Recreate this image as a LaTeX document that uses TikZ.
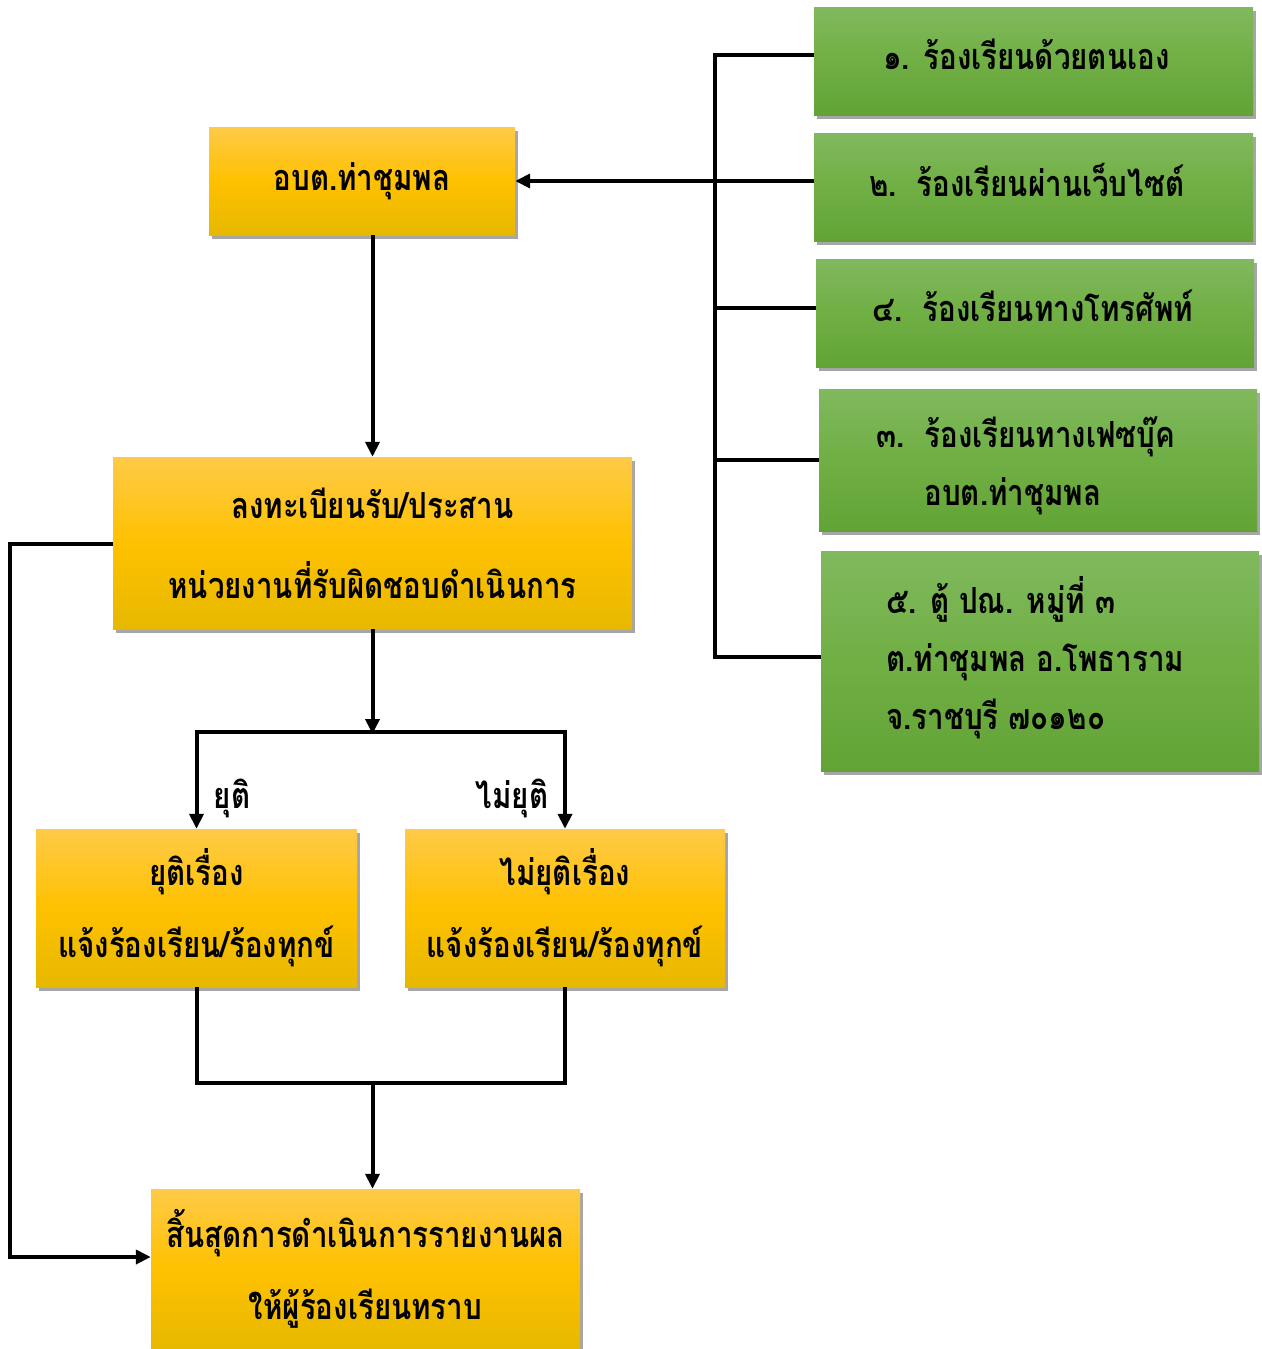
\documentclass[tikz,border=0pt]{standalone}
\usepackage{fontspec}
\newfontfamily\thaifont[Script=Thai,FakeStretch=0.82]{Loma}
\usetikzlibrary{arrows.meta,shadows,calc}
\definecolor{orTop}{RGB}{255,202,72}
\definecolor{orMid}{RGB}{255,193,0}
\definecolor{orBot}{RGB}{230,184,0}
\definecolor{grTop}{RGB}{128,185,94}
\definecolor{grMid}{RGB}{112,175,68}
\definecolor{grBot}{RGB}{98,163,54}
\newcommand{\tf}[2]{\thaifont\bfseries\fontsize{#1}{#2}\selectfont}
\tikzset{
  boxshadow/.style={drop shadow={shadow xshift=3pt,shadow yshift=-4pt,fill=black,opacity=0.35}},
  obox/.style={rectangle,draw=none,top color=orTop,bottom color=orBot,middle color=orMid,
    boxshadow,align=center,inner sep=0pt,font=\tf{36}{72}},
  gbox/.style={rectangle,draw=none,top color=grTop,bottom color=grBot,middle color=grMid,
    boxshadow,inner sep=0pt,align=center,font=\tf{36}{58}},
  gtext/.style={anchor=west,inner sep=0pt,align=left,font=\tf{36}{58}},
  conn/.style={line width=4pt,black},
  arr/.style={conn,-{Triangle[length=15pt,width=14pt]}},
  lbl/.style={font=\tf{36}{40},inner sep=0pt}
}
\begin{document}
\begin{tikzpicture}[x=1pt,y=-1pt]
\useasboundingbox (0,0) rectangle (1261,1349);
% green boxes
\node[gbox,minimum width=439pt,minimum height=108pt] (g1) at (1033.5,61) {};
\node[gtext] (g1t) at (883,54) {๑. ร้องเรียนด้วยตนเอง};
\node[gbox,minimum width=439pt,minimum height=108pt] (g2) at (1033.5,187) {};
\node[gtext] (g2t) at (869,180) {๒.~~ร้องเรียนผ่านเว็บไซต์};
\node[gbox,minimum width=438pt,minimum height=108pt] (g3) at (1035,313) {};
\node[gtext] (g3t) at (872,306) {๔.~~ร้องเรียนทางโทรศัพท์};
\node[gbox,minimum width=438pt,minimum height=142pt] (g4) at (1038,460) {};
\node[gtext] (g4t) at (876,466) {๓.~~ร้องเรียนทางเฟซบุ๊ค\\\phantom{๓.~~}อบต.ท่าชุมพล};
\node[gbox,minimum width=438pt,minimum height=220pt] (g5) at (1040,661) {};
\node[gtext] (g5t) at (886,658) {๕. ตู้ ปณ. หมู่ที่ ๓\\ต.ท่าชุมพล อ.โพธาราม\\จ.ราชบุรี ๗๐๑๒๐};
% orange boxes
\node[obox,minimum width=306pt,minimum height=108pt] (a) at (362,181) {อบต.ท่าชุมพล};
\node[obox,minimum width=519pt,minimum height=172pt,font=\tf{36}{80}] (b) at (372.5,543) {ลงทะเบียนรับ/ประสาน\\หน่วยงานที่รับผิดชอบดำเนินการ};
\node[obox,minimum width=321pt,minimum height=158pt] (c) at (196.5,908) {ยุติเรื่อง\\แจ้งร้องเรียน/ร้องทุกข์};
\node[obox,minimum width=320pt,minimum height=158pt] (d) at (565,908) {ไม่ยุติเรื่อง\\แจ้งร้องเรียน/ร้องทุกข์};
\node[obox,minimum width=429pt,minimum height=160pt] (e) at (365.5,1269) {สิ้นสุดการดำเนินการรายงานผล\\ให้ผู้ร้องเรียนทราบ};
% labels
\node[lbl] (lyes) at (232,798) {ยุติ};
\node[lbl] (lno) at (512,798) {ไม่ยุติ};
% right bus
\coordinate (bt) at (715,55);
\coordinate (bb) at (715,657);
\coordinate (b3) at (715,308);
\coordinate (b4) at (715,460);
\draw[conn] (bt -| g1.west) -- (bt) -- (bb) -- (bb -| g5.west);
\draw[conn] (b3) -- (b3 -| g3.west);
\draw[conn] (b4) -- (b4 -| g4.west);
\draw[arr] (a.east -| g2.west) -- (a.east);
% main flow
\draw[arr] (b.north |- a.south) -- (b.north);
\coordinate (split) at (372.5,732);
\coordinate (sl) at (c.north |- split);
\coordinate (sr) at (d.north |- split);
\draw[arr] (b.south) -- ([yshift=-2pt]split);
\draw[conn] ([xshift=-2pt]sl) -- ([xshift=2pt]sr);
\draw[arr] (sl) -- (c.north);
\draw[arr] (sr) -- (d.north);
\coordinate (ml) at (c.south |- 0,1083);
\coordinate (mr) at (d.south |- 0,1083);
\draw[conn] (c.south) -- (ml) -- (mr) -- (d.south);
\draw[arr] (split |- ml) -- (split |- e.north);
% left loop
\coordinate (l1) at (10,544);
\coordinate (l2) at (10,1257);
\draw[arr] (b.west |- l1) -- (l1) -- (l2) -- (l2 -| e.west);
\end{tikzpicture}
\end{document}
